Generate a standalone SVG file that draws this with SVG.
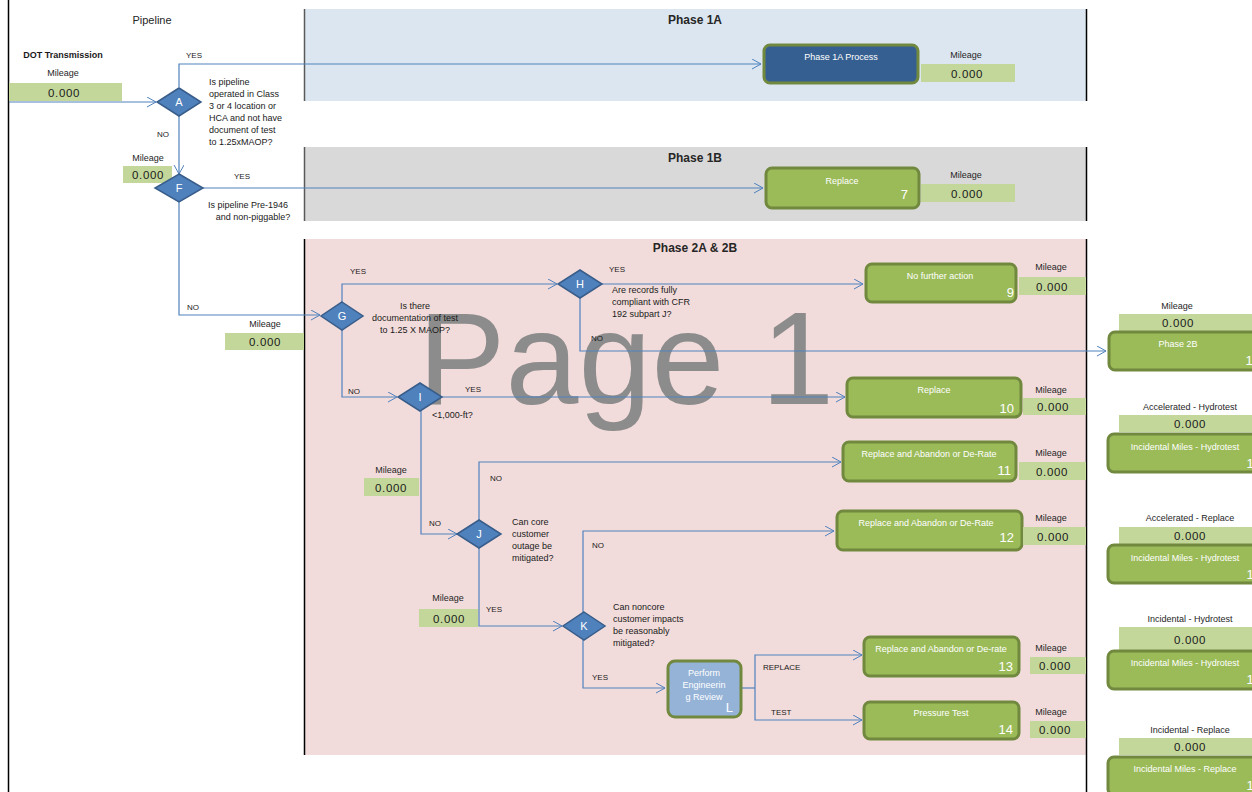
<svg xmlns="http://www.w3.org/2000/svg" width="1252" height="792" viewBox="0 0 1252 792">
<defs>
<marker id="arr" markerUnits="userSpaceOnUse" markerWidth="12" markerHeight="12" refX="9" refY="5" orient="auto">
<path d="M0,0 L9,5 L0,10" fill="none" stroke="#4f81bd" stroke-width="1"/>
</marker>
</defs>
<style>
text{font-family:"Liberation Sans",Arial,sans-serif;}
.t{font-size:9px;fill:#1a1a1a;}
.lbl{font-size:8px;fill:#1a1a1a;}
.ttl{font-size:12px;font-weight:bold;fill:#262626;text-anchor:middle;}
.mil{font-size:9px;fill:#262626;text-anchor:middle;}
.val{font-size:11.5px;fill:#1a1a1a;text-anchor:middle;letter-spacing:0.6px;}
.mbox{fill:#c4d79b;}
.node{fill:#9bbb59;stroke:#71893f;stroke-width:3;}
.ntx{font-size:9px;fill:#ffffff;text-anchor:middle;}
.num{font-size:13px;fill:#ffffff;text-anchor:end;}
.dia{fill:#4f81bd;stroke:#385d8a;stroke-width:1.5;}
.dtx{font-size:11px;fill:#ffffff;text-anchor:middle;}
.c{fill:none;stroke:#4f81bd;stroke-width:1.2;}
.ca{fill:none;stroke:#4f81bd;stroke-width:1.2;marker-end:url(#arr);}
</style>
<rect x="0" y="0" width="1252" height="792" fill="#ffffff"/>
<!-- panels -->
<g id="panel-1a">
<rect x="304" y="9" width="782" height="92" fill="#dce6f1"/>
<line x1="304.5" y1="9" x2="304.5" y2="101" stroke="#595959" stroke-width="1.5"/>
<line x1="1086.5" y1="9" x2="1086.5" y2="101" stroke="#000" stroke-width="1.5"/>
<text class="ttl" x="695" y="24">Phase 1A</text>
</g>
<g id="panel-1b">
<rect x="304" y="147" width="782" height="74" fill="#d9d9d9"/>
<line x1="304.5" y1="147" x2="304.5" y2="221" stroke="#595959" stroke-width="1.5"/>
<line x1="1086.5" y1="147" x2="1086.5" y2="221" stroke="#000" stroke-width="1.5"/>
<text class="ttl" x="695" y="162">Phase 1B</text>
</g>
<g id="panel-2">
<rect x="304" y="239" width="782" height="516" fill="#f2dcdb"/>
<line x1="304.5" y1="239" x2="304.5" y2="755" stroke="#000" stroke-width="1.5"/>
<line x1="1086.5" y1="239" x2="1086.5" y2="792" stroke="#000" stroke-width="1.5"/>
<text class="ttl" x="695" y="252">Phase 2A &amp; 2B</text>
</g>
<line x1="8.5" y1="0" x2="8.5" y2="792" stroke="#000" stroke-width="1.5"/>
<!-- watermark -->
<text x="418" y="404" font-size="131" fill="#8c8c8c" textLength="416" lengthAdjust="spacing" style="font-family:'Liberation Sans',Arial,sans-serif">Page 1</text>
<!-- header texts -->
<text x="152" y="24" font-size="11" fill="#262626" text-anchor="middle">Pipeline</text>
<text x="63" y="58" font-size="9" font-weight="bold" fill="#1a1a1a" text-anchor="middle">DOT Transmission</text>
<g id="mil-start">
<text class="mil" x="63" y="76">Mileage</text>
<rect class="mbox" x="9" y="83" width="113" height="18"/>
<text class="val" x="64" y="97">0.000</text>
</g>
<!-- connectors -->
<g id="connectors">
<path class="ca" d="M9,102 L156,102"/>
<path class="ca" d="M179,87 L179,64 L761,64"/>
<path class="ca" d="M179,116 L179,174"/>
<path class="ca" d="M203,188 L763,188"/>
<path class="ca" d="M179,202 L179,315 L320,315"/>
<path class="ca" d="M342,302 L342,284 L557,284"/>
<path class="ca" d="M602,284 L863,284"/>
<path class="ca" d="M580,298 L580,351 L1106,351"/>
<path class="ca" d="M342,330 L342,397 L397,397"/>
<path class="ca" d="M441,397 L845,397"/>
<path class="ca" d="M421,411 L421,534 L457,534"/>
<path class="ca" d="M479,520 L479,462 L841,462"/>
<path class="ca" d="M479,548 L479,626 L562,626"/>
<path class="ca" d="M583,612 L583,531 L834,531"/>
<path class="ca" d="M583,640 L583,688 L665,688"/>
<path class="c" d="M742,688 L755,688"/>
<path class="ca" d="M755,688 L755,655 L862,655"/>
<path class="ca" d="M755,688 L755,720 L862,720"/>
</g>
<!-- connector labels -->
<g id="labels">
<text class="lbl" x="186" y="58">YES</text>
<text class="lbl" x="157" y="137">NO</text>
<text class="lbl" x="234" y="179">YES</text>
<text class="lbl" x="187" y="310">NO</text>
<text class="lbl" x="350" y="274">YES</text>
<text class="lbl" x="609" y="272">YES</text>
<text class="lbl" x="591" y="341">NO</text>
<text class="lbl" x="348" y="394">NO</text>
<text class="lbl" x="465" y="392">YES</text>
<text class="lbl" x="429" y="526">NO</text>
<text class="lbl" x="490" y="481">NO</text>
<text class="lbl" x="592" y="548">NO</text>
<text class="lbl" x="486" y="612">YES</text>
<text class="lbl" x="592" y="680">YES</text>
<text class="lbl" x="763" y="670">REPLACE</text>
<text class="lbl" x="771" y="715">TEST</text>
</g>
<!-- decisions -->
<g id="dec-A">
<polygon class="dia" points="179,88 201,102 179,116 157,102"/>
<text class="dtx" x="179" y="106">A</text>
<text class="t" x="209" y="85">Is pipeline</text>
<text class="t" x="209" y="97">operated in Class</text>
<text class="t" x="209" y="109">3 or 4 location or</text>
<text class="t" x="209" y="121">HCA and not have</text>
<text class="t" x="209" y="133">document of test</text>
<text class="t" x="209" y="145">to 1.25xMAOP?</text>
</g>
<g id="mil-F">
<text class="mil" x="148" y="161">Mileage</text>
<rect class="mbox" x="123" y="166" width="49" height="17"/>
<text class="val" x="148" y="179">0.000</text>
</g>
<g id="dec-F">
<polygon class="dia" points="179,174 203,188 179,202 155,188"/>
<text class="dtx" x="179" y="192">F</text>
<text class="t" x="248" y="208" text-anchor="middle">Is pipeline Pre-1946</text>
<text class="t" x="253" y="220" text-anchor="middle">and non-piggable?</text>
</g>
<g id="mil-G">
<text class="mil" x="265" y="327">Mileage</text>
<rect class="mbox" x="225" y="333" width="79" height="17"/>
<text class="val" x="265" y="346">0.000</text>
</g>
<g id="dec-G">
<polygon class="dia" points="342,302 363,316 342,330 321,316"/>
<text class="dtx" x="342" y="320">G</text>
<text class="t" x="415" y="309" text-anchor="middle">Is there</text>
<text class="t" x="415" y="321" text-anchor="middle">documentation of test</text>
<text class="t" x="415" y="333" text-anchor="middle">to 1.25 X MAOP?</text>
</g>
<g id="dec-H">
<polygon class="dia" points="580,270 602,284 580,298 558,284"/>
<text class="dtx" x="580" y="288">H</text>
<text class="t" x="612" y="293">Are records fully</text>
<text class="t" x="612" y="305">compliant with CFR</text>
<text class="t" x="612" y="317">192 subpart J?</text>
</g>
<g id="dec-I">
<polygon class="dia" points="420,383 442,397 420,411 398,397"/>
<text class="dtx" x="420" y="401">I</text>
<text class="t" x="432" y="418">&lt;1,000-ft?</text>
</g>
<g id="mil-I">
<text class="mil" x="391" y="473">Mileage</text>
<rect class="mbox" x="364" y="478" width="55" height="18"/>
<text class="val" x="391" y="492">0.000</text>
</g>
<g id="dec-J">
<polygon class="dia" points="479,520 501,534 479,548 457,534"/>
<text class="dtx" x="479" y="538">J</text>
<text class="t" x="512" y="525">Can core</text>
<text class="t" x="512" y="537">customer</text>
<text class="t" x="512" y="549">outage be</text>
<text class="t" x="512" y="561">mitigated?</text>
</g>
<g id="mil-J">
<text class="mil" x="448" y="601">Mileage</text>
<rect class="mbox" x="419" y="609" width="59" height="18"/>
<text class="val" x="449" y="623">0.000</text>
</g>
<g id="dec-K">
<polygon class="dia" points="584,612 605,626 584,640 563,626"/>
<text class="dtx" x="584" y="630">K</text>
<text class="t" x="613" y="610">Can noncore</text>
<text class="t" x="613" y="622">customer impacts</text>
<text class="t" x="613" y="634">be reasonably</text>
<text class="t" x="613" y="646">mitigated?</text>
</g>
<!-- process nodes -->
<g id="node-1a">
<rect x="764" y="45" width="154" height="38" rx="6" fill="#365f91" stroke="#71893f" stroke-width="3"/>
<text class="ntx" x="841" y="60">Phase 1A Process</text>
<text class="mil" x="966" y="58">Mileage</text>
<rect class="mbox" x="921" y="64" width="94" height="18"/>
<text class="val" x="967" y="78">0.000</text>
</g>
<g id="node-7">
<rect class="node" x="766" y="168" width="153" height="40" rx="6"/>
<text class="ntx" x="842" y="184">Replace</text>
<text class="num" x="908" y="199">7</text>
<text class="mil" x="966" y="178">Mileage</text>
<rect class="mbox" x="921" y="184" width="94" height="18"/>
<text class="val" x="967" y="198">0.000</text>
</g>
<g id="node-9">
<rect class="node" x="866" y="264" width="150" height="38" rx="6"/>
<text class="ntx" x="940" y="279">No further action</text>
<text class="num" x="1014" y="297">9</text>
<text class="mil" x="1051" y="270">Mileage</text>
<rect class="mbox" x="1019" y="277" width="67" height="18"/>
<text class="val" x="1052" y="291">0.000</text>
</g>
<g id="node-10">
<rect class="node" x="847" y="378" width="174" height="39" rx="6"/>
<text class="ntx" x="934" y="393">Replace</text>
<text class="num" x="1014" y="413">10</text>
<text class="mil" x="1051" y="393">Mileage</text>
<rect class="mbox" x="1023" y="398" width="63" height="17"/>
<text class="val" x="1053" y="411">0.000</text>
</g>
<g id="node-11">
<rect class="node" x="843" y="442" width="173" height="39" rx="6"/>
<text class="ntx" x="929" y="457">Replace and Abandon or De-Rate</text>
<text class="num" x="1011" y="475">11</text>
<text class="mil" x="1051" y="456">Mileage</text>
<rect class="mbox" x="1019" y="462" width="67" height="18"/>
<text class="val" x="1052" y="476">0.000</text>
</g>
<g id="node-12">
<rect class="node" x="837" y="511" width="185" height="39" rx="6"/>
<text class="ntx" x="926" y="526">Replace and Abandon or De-Rate</text>
<text class="num" x="1014" y="542">12</text>
<text class="mil" x="1051" y="521">Mileage</text>
<rect class="mbox" x="1023" y="527" width="63" height="18"/>
<text class="val" x="1053" y="541">0.000</text>
</g>
<g id="node-L">
<rect x="668" y="661" width="73" height="56" rx="7" fill="#95b3d7" stroke="#71893f" stroke-width="3"/>
<text class="ntx" x="704" y="676">Perform</text>
<text class="ntx" x="704" y="688">Engineerin</text>
<text class="ntx" x="704" y="700">g Review</text>
<text class="num" x="733" y="712">L</text>
</g>
<g id="node-13">
<rect class="node" x="864" y="637" width="155" height="39" rx="6"/>
<text class="ntx" x="941" y="652">Replace and Abandon or De-rate</text>
<text class="num" x="1013" y="671">13</text>
<text class="mil" x="1051" y="651">Mileage</text>
<rect class="mbox" x="1030" y="657" width="56" height="17"/>
<text class="val" x="1055" y="670">0.000</text>
</g>
<g id="node-14">
<rect class="node" x="864" y="702" width="155" height="37" rx="6"/>
<text class="ntx" x="941" y="716">Pressure Test</text>
<text class="num" x="1013" y="734">14</text>
<text class="mil" x="1051" y="715">Mileage</text>
<rect class="mbox" x="1030" y="721" width="56" height="17"/>
<text class="val" x="1055" y="734">0.000</text>
</g>
<!-- right column -->
<g id="node-15">
<text class="mil" x="1177" y="309">Mileage</text>
<rect class="mbox" x="1119" y="314" width="133" height="17"/>
<text class="val" x="1178" y="327">0.000</text>
<rect class="node" x="1109" y="332" width="160" height="38" rx="6"/>
<text class="ntx" x="1178" y="347">Phase 2B</text>
<text class="num" x="1260" y="365">15</text>
</g>
<g id="node-16">
<text class="mil" x="1190" y="410">Accelerated - Hydrotest</text>
<rect class="mbox" x="1119" y="415" width="133" height="17"/>
<text class="val" x="1190" y="428">0.000</text>
<rect class="node" x="1108" y="434" width="160" height="38" rx="6"/>
<text class="ntx" x="1185" y="450">Incidental Miles - Hydrotest</text>
<text class="num" x="1261" y="468">16</text>
</g>
<g id="node-17">
<text class="mil" x="1190" y="521">Accelerated - Replace</text>
<rect class="mbox" x="1119" y="527" width="133" height="17"/>
<text class="val" x="1190" y="540">0.000</text>
<rect class="node" x="1108" y="545" width="160" height="38" rx="6"/>
<text class="ntx" x="1185" y="561">Incidental Miles - Hydrotest</text>
<text class="num" x="1261" y="579">17</text>
</g>
<g id="node-18">
<text class="mil" x="1190" y="622">Incidental - Hydrotest</text>
<rect class="mbox" x="1119" y="627" width="133" height="23"/>
<text class="val" x="1190" y="644">0.000</text>
<rect class="node" x="1108" y="651" width="160" height="38" rx="6"/>
<text class="ntx" x="1185" y="666">Incidental Miles - Hydrotest</text>
<text class="num" x="1261" y="684">18</text>
</g>
<g id="node-19">
<text class="mil" x="1190" y="733">Incidental - Replace</text>
<rect class="mbox" x="1119" y="738" width="133" height="17"/>
<text class="val" x="1190" y="751">0.000</text>
<rect class="node" x="1108" y="757" width="160" height="38" rx="6"/>
<text class="ntx" x="1185" y="772">Incidental Miles - Replace</text>
<text class="num" x="1261" y="790">19</text>
</g>
</svg>
